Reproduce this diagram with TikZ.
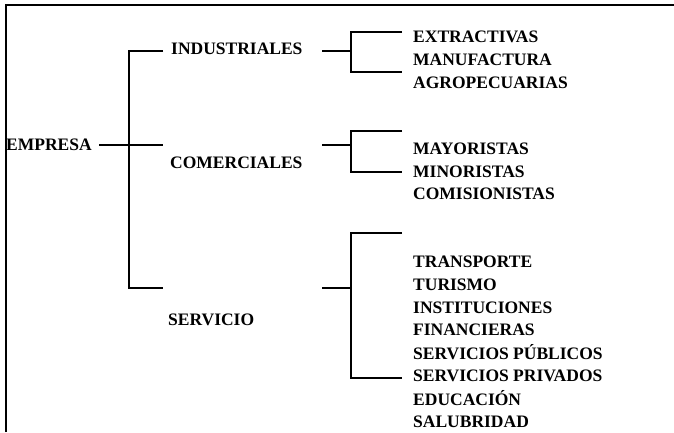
\documentclass[tikz,border=0pt]{standalone}
\usepackage{fontspec}
\setmainfont{Liberation Serif}
\newcommand\lblfont{\fontsize{17.5}{22.8}\selectfont\bfseries}
\begin{document}
\begin{tikzpicture}[x=1pt,y=-1pt,
  conn/.style={line width=1.1pt},
  lbl/.style={anchor=base west, inner sep=0pt, font=\lblfont}]
\useasboundingbox (0,0) rectangle (674,432);
% frame
\coordinate (fb) at (6,432);
\coordinate (ftl) at (6,5);
\coordinate (ftr) at (674,5);
\draw[conn] (fb) -- (ftl) -- (ftr);

% level 0 and 1 labels
\node[lbl] (empresa) at (6,150) {EMPRESA};
\node[lbl] (ind) at (171,54) {INDUSTRIALES};
\node[lbl] (com) at (170,168) {COMERCIALES};
\node[lbl] (ser) at (168,325) {SERVICIO};

% first bracket
\coordinate (e0) at (99,145);
\coordinate (bm) at (129,145);
\coordinate (bt) at (129,51);
\coordinate (bb) at (129,288);
\coordinate (bti) at (163,51);
\coordinate (bcm) at (163,145);
\coordinate (bbs) at (163,288);
\draw[conn] (e0) -- (bcm);
\draw[conn] (bti) -- (bt) -- (bb) -- (bbs);

% ties to second level
\coordinate (ia) at (322,51);  \coordinate (ib) at (351,51);
\coordinate (ca) at (322,145); \coordinate (cb) at (351,145);
\coordinate (sa) at (322,288); \coordinate (sb) at (351,288);
\draw[conn] (ia) -- (ib);
\draw[conn] (ca) -- (cb);
\draw[conn] (sa) -- (sb);

% second level brackets
\coordinate (i1) at (402,32); \coordinate (i1v) at (351,32);
\coordinate (i2) at (402,72); \coordinate (i2v) at (351,72);
\draw[conn] (i1) -- (i1v) -- (i2v) -- (i2);
\coordinate (c1) at (402,131); \coordinate (c1v) at (351,131);
\coordinate (c2) at (402,172); \coordinate (c2v) at (351,172);
\draw[conn] (c1) -- (c1v) -- (c2v) -- (c2);
\coordinate (s1) at (402,233); \coordinate (s1v) at (351,233);
\coordinate (s2) at (402,378); \coordinate (s2v) at (351,378);
\draw[conn] (s1) -- (s1v) -- (s2v) -- (s2);

% leaves
\node[lbl] (ext) at (413,42) {EXTRACTIVAS};
\node[lbl] (man) at (413,65) {MANUFACTURA};
\node[lbl] (agr) at (413,88) {AGROPECUARIAS};
\node[lbl] (may) at (413,154) {MAYORISTAS};
\node[lbl] (min) at (413,177) {MINORISTAS};
\node[lbl] (comi) at (413,199) {COMISIONISTAS};
\node[lbl] (tra) at (413,267) {TRANSPORTE};
\node[lbl] (tur) at (413,290) {TURISMO};
\node[lbl] (ins) at (413,313) {INSTITUCIONES};
\node[lbl] (fin) at (413,335) {FINANCIERAS};
\node[lbl] (spu) at (413,359) {SERVICIOS PÚBLICOS};
\node[lbl] (spr) at (413,381) {SERVICIOS PRIVADOS};
\node[lbl] (edu) at (413,405) {EDUCACIÓN};
\node[lbl] (sal) at (413,427) {SALUBRIDAD};
\end{tikzpicture}
\end{document}
